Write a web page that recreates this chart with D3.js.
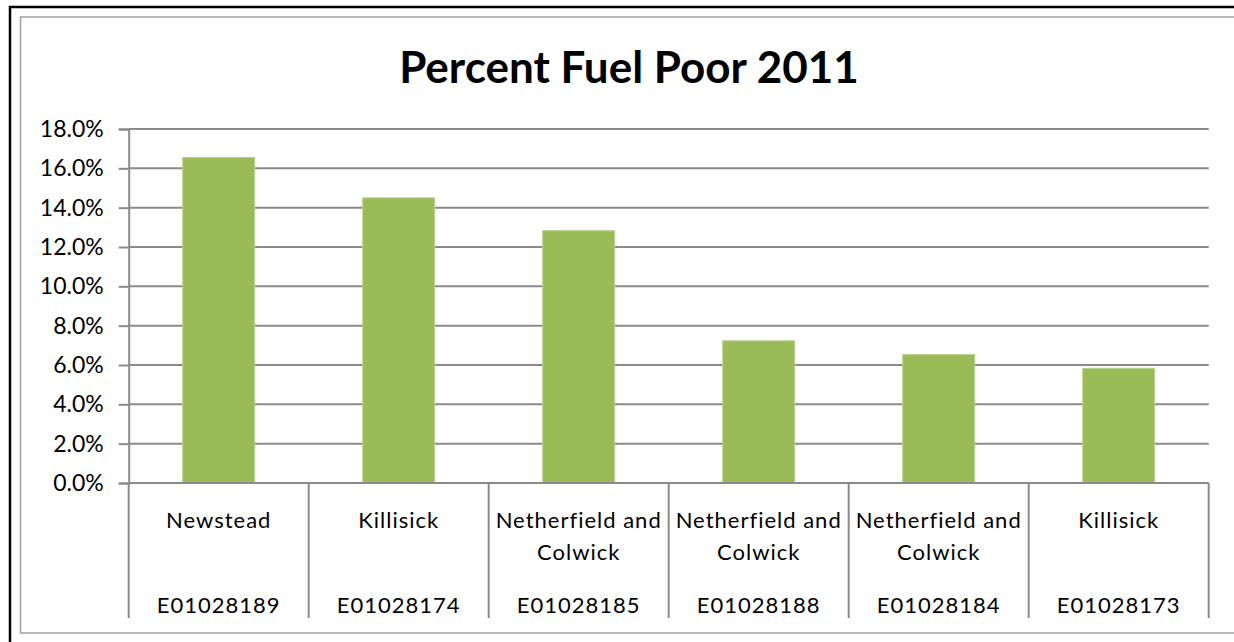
<!DOCTYPE html>
<html>
<head>
<meta charset="utf-8">
<script src="https://cdn.jsdelivr.net/npm/d3@7"></script>
<style>
  html, body { margin: 0; padding: 0; background: #fff; }
  svg { display: block; }
  text { font-family: Lato, "Open Sans", sans-serif; fill: #000; }
</style>
</head>
<body>
<svg id="chart" width="1234" height="642"></svg>
<script>
const title = "Percent Fuel Poor 2011";
const areaNames = [["Newstead"], ["Killisick"], ["Netherfield and", "Colwick"], ["Netherfield and", "Colwick"], ["Netherfield and", "Colwick"], ["Killisick"]];
const areaCodes = ["E01028189", "E01028174", "E01028185", "E01028188", "E01028184", "E01028173"];
const values = [16.55, 14.5, 12.83, 7.23, 6.53, 5.83];
const yTicks = [0, 2, 4, 6, 8, 10, 12, 14, 16, 18];

const svg = d3.select("#chart");

// frames
svg.append("rect").attr("x", 10).attr("y", 7).attr("width", 1240).attr("height", 660)
  .attr("fill", "none").attr("stroke", "#000").attr("stroke-width", 2.5);
svg.append("rect").attr("x", 20.5).attr("y", 17).attr("width", 1230).attr("height", 616)
  .attr("fill", "none").attr("stroke", "#a0a0a0").attr("stroke-width", 1.5);

svg.append("text").attr("x", 629).attr("y", 83).attr("text-anchor", "middle")
  .attr("font-size", 44).attr("font-weight", "bold").text(title);

const plotL = 128.7, plotR = 1208.7, plotT = 129, plotB = 483;
const x = d3.scaleBand().domain(d3.range(values.length)).range([plotL, plotR]).paddingInner(0.6).paddingOuter(0.3);
const y = d3.scaleLinear().domain([0, 18]).range([plotB, plotT]);

// gridlines
svg.append("g").selectAll("line").data(yTicks.filter(d => d > 0)).join("line")
  .attr("x1", plotL).attr("x2", plotR).attr("y1", d => y(d)).attr("y2", d => y(d))
  .attr("stroke", "#8a8a8a").attr("stroke-width", 2);

// y axis
const yAxis = d3.axisLeft(y).tickValues(yTicks).tickSize(10).tickPadding(15)
  .tickFormat(d => d3.format(".1f")(d) + "%");
const gy = svg.append("g").attr("transform", `translate(${plotL},0)`).call(yAxis);
gy.select(".domain").attr("stroke", "#8a8a8a").attr("stroke-width", 2);
gy.selectAll(".tick line").attr("stroke", "#8a8a8a").attr("stroke-width", 2);
gy.selectAll(".tick text").attr("font-size", 23).attr("font-family", "Lato, sans-serif").attr("fill", "#000");

// bars
svg.append("g").selectAll("rect").data(values).join("rect")
  .attr("x", (d, i) => x(i)).attr("width", x.bandwidth())
  .attr("y", d => y(d)).attr("height", d => y(0) - y(d))
  .attr("fill", "#9BBB59").attr("stroke", "#b9d18f").attr("stroke-width", 1);

// category axis
const step = (plotR - plotL) / values.length;
svg.append("line").attr("x1", plotL).attr("x2", plotR).attr("y1", plotB).attr("y2", plotB)
  .attr("stroke", "#8a8a8a").attr("stroke-width", 2);
svg.append("g").selectAll("line").data(d3.range(values.length + 1)).join("line")
  .attr("x1", i => plotL + i * step).attr("x2", i => plotL + i * step)
  .attr("y1", plotB).attr("y2", 618)
  .attr("stroke", "#8a8a8a").attr("stroke-width", 2);

const cat = svg.append("g").selectAll("g").data(values).join("g");
cat.each(function(d, i) {
  const g = d3.select(this);
  const cx = x(i) + x.bandwidth() / 2;
  areaNames[i].forEach((ln, k) => {
    g.append("text").attr("x", cx).attr("y", 528 + k * 32).attr("text-anchor", "middle")
      .attr("font-size", 22).attr("letter-spacing", 1).text(ln);
  });
  g.append("text").attr("x", cx).attr("y", 613).attr("text-anchor", "middle")
    .attr("font-size", 22).attr("letter-spacing", 1).text(areaCodes[i]);
});
</script>
</body>
</html>
